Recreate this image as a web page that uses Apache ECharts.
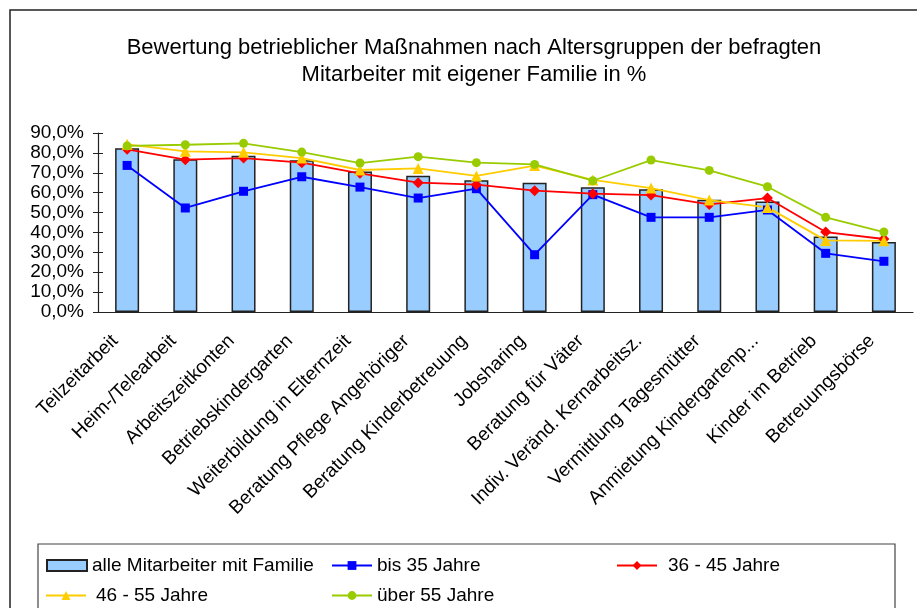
<!DOCTYPE html>
<html>
<head>
<meta charset="utf-8">
<script src="https://cdn.jsdelivr.net/npm/echarts@6/dist/echarts.min.js"></script>
<style>
  html, body { margin: 0; padding: 0; background: #fff; }
  #chart { width: 917px; height: 608px; }
</style>
</head>
<body>
<div id="chart"></div>
<script>
// categories and values (percent)
const categories = [
  'Teilzeitarbeit', 'Heim-/Telearbeit', 'Arbeitszeitkonten', 'Betriebskindergarten',
  'Weiterbildung in Elternzeit', 'Beratung Pflege Angehöriger', 'Beratung Kinderbetreuung',
  'Jobsharing', 'Beratung für Väter', 'Indiv. Veränd. Kernarbeitsz.',
  'Vermittlung Tagesmütter', 'Anmietung Kindergartenp...', 'Kinder im Betrieb', 'Betreuungsbörse'
];
const alleMitarbeiter = [82.3, 76.8, 78.6, 76.3, 70.7, 68.5, 66.2, 65.0, 62.7, 61.7, 56.5, 55.6, 38.0, 35.2];
const bis35 = [73.7, 52.3, 60.7, 68.0, 62.8, 57.3, 62.0, 28.8, 59.0, 47.6, 47.6, 51.3, 29.5, 25.5];
const j36bis45 = [81.8, 76.6, 77.4, 75.1, 69.7, 65.0, 64.0, 61.0, 59.5, 58.8, 54.1, 57.3, 40.2, 36.7];
const j46bis55 = [84.3, 80.8, 80.3, 77.4, 71.4, 72.2, 68.4, 73.6, 66.4, 62.3, 56.3, 52.6, 36.0, 35.8];
const ueber55 = [83.5, 84.1, 84.8, 80.4, 74.9, 78.1, 75.1, 74.2, 66.0, 76.4, 71.2, 63.0, 47.6, 40.2];

const names = ['alle Mitarbeiter mit Familie', 'bis 35 Jahre', '36 - 45 Jahre', '46 - 55 Jahre', 'über 55 Jahre'];

const font = "'Liberation Sans', Arial, sans-serif";
const chart = echarts.init(document.getElementById('chart'));

function lineSeries(name, data, color, symbol, size) {
  return {
    name: name,
    type: 'line',
    data: data,
    symbol: symbol,
    symbolSize: size,
    lineStyle: { color: color, width: 1.8 },
    itemStyle: { color: color },
    z: 3
  };
}

function legendAt(name, left, top, pad, icon) {
  const lg = {
    data: [name],
    left: left,
    top: top,
    padding: 0,
    itemWidth: 40,
    itemHeight: 11,
    selectedMode: false,
    textStyle: { fontFamily: font, fontSize: 19, color: '#000', padding: [0, 0, 0, pad || 0] }
  };
  if (icon) lg.icon = icon;
  return lg;
}

const option = {
  animation: false,
  textStyle: { fontFamily: font },
  title: {
    text: 'Bewertung betrieblicher Maßnahmen nach Altersgruppen der befragten\nMitarbeiter mit eigener Familie in %',
    left: 469,
    top: 29,
    textAlign: 'center',
    textStyle: { fontFamily: font, fontSize: 22, fontWeight: 'normal', color: '#000', lineHeight: 27 }
  },
  graphic: [
    { type: 'rect', shape: { x: 10, y: 10, width: 930, height: 640 }, style: { fill: 'none', stroke: '#222', lineWidth: 1.5 }, z: -1 },
    { type: 'rect', shape: { x: 38, y: 544, width: 857, height: 100 }, style: { fill: 'none', stroke: '#444', lineWidth: 1.2 }, z: -1 }
  ],
  legend: [
    legendAt(names[0], 46, 556, 0, 'rect'),
    legendAt(names[1], 331, 556),
    legendAt(names[2], 616, 556, 6),
    legendAt(names[3], 45, 586, 5),
    legendAt(names[4], 331, 586)
  ],
  grid: { left: 98, right: 4, top: 133, bottom: 296 },
  xAxis: [
    {
      type: 'category',
      data: categories,
      axisLine: { lineStyle: { color: '#222', width: 1.2 } },
      axisTick: { length: 5, lineStyle: { color: '#222' } },
      axisLabel: {
        interval: 0, rotate: 45, margin: 14, fontSize: 19, color: '#000', fontFamily: font,
        padding: [0, 17, 0, 0]
      }
    },
    {
      type: 'category',
      data: categories,
      position: 'bottom',
      axisLine: { show: false },
      axisTick: { inside: true, length: 5, lineStyle: { color: '#222' } },
      axisLabel: { show: false }
    }
  ],
  yAxis: [
    {
      type: 'value',
      min: 0,
      max: 90,
      interval: 10,
      axisLine: { show: true, lineStyle: { color: '#222', width: 1.2 } },
      axisTick: { show: true, length: 5, lineStyle: { color: '#222' } },
      splitLine: { show: false },
      axisLabel: {
        margin: 14,
        fontSize: 19,
        color: '#000',
        fontFamily: font,
        formatter: (v) => v.toFixed(1).replace('.', ',') + '%'
      }
    },
    {
      type: 'value',
      min: 0,
      max: 90,
      interval: 10,
      position: 'left',
      axisLine: { show: false },
      axisTick: { show: true, inside: true, length: 5, lineStyle: { color: '#222' } },
      splitLine: { show: false },
      axisLabel: { show: false }
    }
  ],
  series: [
    {
      name: names[0],
      type: 'bar',
      data: alleMitarbeiter,
      barWidth: 24,
      itemStyle: { color: '#99CCFF', borderColor: '#222', borderWidth: 1.5 },
      z: 2
    },
    lineSeries(names[1], bis35, '#0000FF', 'rect', 9),
    lineSeries(names[2], j36bis45, '#FF0000', 'diamond', 11),
    lineSeries(names[3], j46bis55, '#FFCC00', 'triangle', 11),
    lineSeries(names[4], ueber55, '#99CC00', 'circle', 9)
  ]
};

chart.setOption(option);
</script>
</body>
</html>
